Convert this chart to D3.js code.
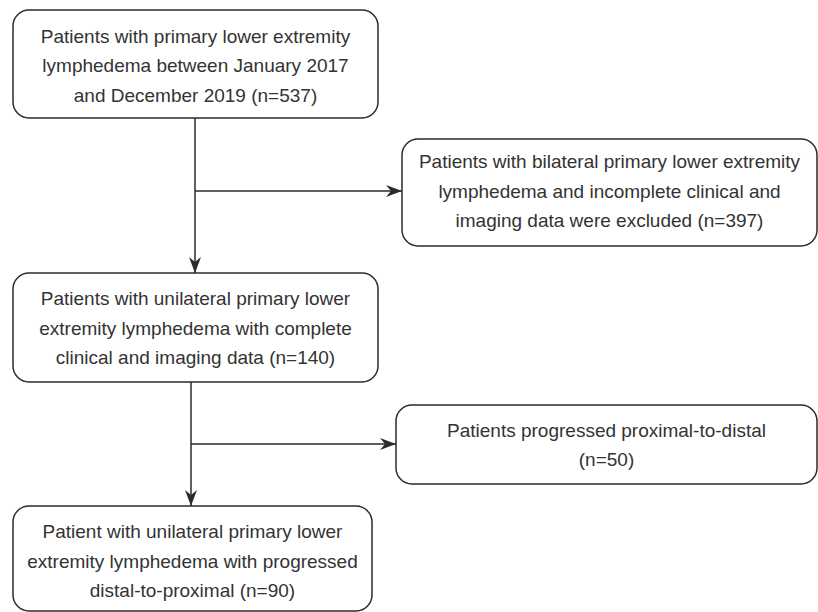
<!DOCTYPE html>
<html>
<head>
<meta charset="utf-8">
<script src="https://cdn.jsdelivr.net/npm/d3@7"></script>
<style>
  body { margin: 0; background: #fff; }
  svg text { font-family: "Liberation Sans", Arial, Helvetica, sans-serif; }
</style>
</head>
<body>
<div id="chart"></div>
<script>
// node labels (one entry per box, each an array of lines)
var nodeIds = ["all", "excluded", "unilateral", "proxDistal", "distProx"];
var nodeLines = [
  ["Patients with primary lower extremity", "lymphedema between January 2017", "and December 2019 (n=537)"],
  ["Patients with bilateral primary lower extremity", "lymphedema and incomplete clinical and", "imaging data were excluded (n=397)"],
  ["Patients with unilateral primary lower", "extremity lymphedema with complete", "clinical and imaging data (n=140)"],
  ["Patients progressed proximal-to-distal", "(n=50)"],
  ["Patient with unilateral primary lower", "extremity lymphedema with progressed", "distal-to-proximal (n=90)"]
];
var nodeCounts = [537, 397, 140, 50, 90];

// layout of the boxes, kept apart from the data
var layout = {
  all:        { x0: 13,  y0: 10,  x1: 378, y1: 118, dy: 8 },
  excluded:   { x0: 402, y0: 139, x1: 817, y1: 246, dy: 5 },
  unilateral: { x0: 13,  y0: 273, x1: 378, y1: 382, dy: 7 },
  proxDistal: { x0: 396, y0: 405, x1: 817, y1: 484, dy: 7 },
  distProx:   { x0: 13,  y0: 506, x1: 372, y1: 611, dy: 9 }
};

var width = 818, height = 612;
var lineGap = 29.5;
var stroke = "#2b2b2b";

var svg = d3.select("#chart").append("svg")
  .attr("width", width)
  .attr("height", height);

svg.append("defs").append("marker")
  .attr("id", "arrow")
  .attr("viewBox", "-16 -6 17 12")
  .attr("refX", 0)
  .attr("refY", 0)
  .attr("markerWidth", 17)
  .attr("markerHeight", 12)
  .attr("markerUnits", "userSpaceOnUse")
  .attr("orient", "auto")
  .append("path")
  .attr("d", "M0,0 L-16,-6 L-11,0 L-16,6 Z")
  .attr("fill", stroke);

var nodes = nodeIds.map(function (id, i) {
  return { id: id, lines: nodeLines[i], n: nodeCounts[i], box: layout[id] };
});

var g = svg.selectAll("g.node")
  .data(nodes)
  .enter().append("g")
  .attr("class", "node");

g.append("rect")
  .attr("x", function (d) { return d.box.x0; })
  .attr("y", function (d) { return d.box.y0; })
  .attr("width", function (d) { return d.box.x1 - d.box.x0; })
  .attr("height", function (d) { return d.box.y1 - d.box.y0; })
  .attr("rx", 16)
  .attr("ry", 16)
  .attr("fill", "none")
  .attr("stroke", stroke)
  .attr("stroke-width", 1.5);

g.each(function (d) {
  var cx = (d.box.x0 + d.box.x1) / 2;
  var cy = (d.box.y0 + d.box.y1) / 2;
  var first = cy - (d.lines.length - 1) / 2 * lineGap + d.box.dy;
  d3.select(this).selectAll("text")
    .data(d.lines)
    .enter().append("text")
    .attr("x", cx)
    .attr("y", function (t, k) { return first + k * lineGap; })
    .attr("text-anchor", "middle")
    .attr("font-size", 19)
    .attr("fill", "#333")
    .text(function (t) { return t; });
});

// connectors
var B = layout;
var trunk1 = 195, trunk2 = 191;
var branch1 = 191;
var branch2 = 444;

var links = [
  { pts: [[trunk1, B.all.y1], [trunk1, B.unilateral.y0]], arrow: true },
  { pts: [[trunk1, branch1], [B.excluded.x0, branch1]], arrow: true },
  { pts: [[trunk2, B.unilateral.y1], [trunk2, B.distProx.y0]], arrow: true },
  { pts: [[trunk2, branch2], [B.proxDistal.x0, branch2]], arrow: true }
];

var line = d3.line();
svg.selectAll("path.link")
  .data(links)
  .enter().append("path")
  .attr("class", "link")
  .attr("d", function (d) { return line(d.pts); })
  .attr("fill", "none")
  .attr("stroke", stroke)
  .attr("stroke-width", 1.5)
  .attr("marker-end", function (d) { return d.arrow ? "url(#arrow)" : null; });
</script>
</body>
</html>
